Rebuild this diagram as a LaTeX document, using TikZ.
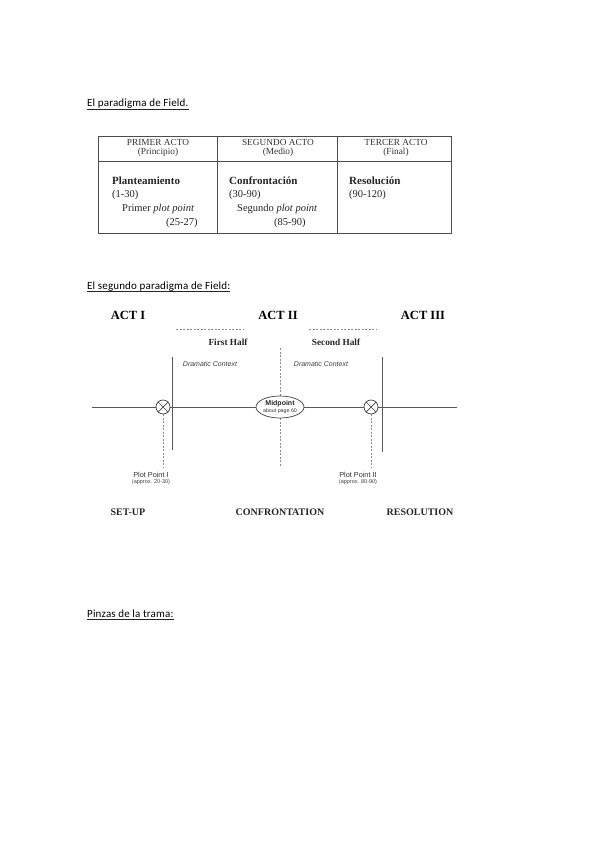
\documentclass[tikz,border=0pt]{standalone}
\usepackage{fontspec}
\usetikzlibrary{shapes.geometric}
\setmainfont{Liberation Serif}
\newfontfamily\calfont[LetterSpace=1.5]{Carlito}
\newfontfamily\arialfont{Liberation Sans}
\begin{document}
\begin{tikzpicture}[x=1pt,y=-1pt,
  title/.style={anchor=base west,inner sep=0pt,font=\calfont\fontsize{11}{13}\selectfont,text=black},
  uline/.style={draw=black!85,line width=0.9pt},
  frame/.style={draw=black!70,line width=0.8pt},
  hdr/.style={inner sep=0pt,font=\fontsize{9.3}{11}\selectfont,text=black!80},
  body/.style={anchor=west,inner sep=0pt,font=\fontsize{10.5}{13}\selectfont,text=black!85},
  bodyb/.style={body,font=\bfseries\fontsize{11}{13}\selectfont},
  act/.style={inner sep=0pt,font=\bfseries\fontsize{12.5}{14}\selectfont},
  half/.style={inner sep=0pt,font=\bfseries\fontsize{9.3}{11}\selectfont,text=black!85},
  dram/.style={inner sep=0pt,font=\arialfont\itshape\fontsize{7}{8}\selectfont,text=black!75},
  solidv/.style={draw=black!65,line width=0.8pt},
  dashv/.style={draw=black!45,dashed,dash pattern=on 2pt off 1.5pt,line width=0.5pt},
  cross/.style={circle,draw=black!75,fill=white,minimum size=14pt,inner sep=0pt,line width=0.7pt},
  phase/.style={inner sep=0pt,font=\bfseries\fontsize{10}{12}\selectfont,text=black!85},
  pp/.style={inner sep=0pt,font=\arialfont\fontsize{7.3}{8}\selectfont,text=black!80},
  ppsmall/.style={inner sep=0pt,font=\arialfont\fontsize{5.5}{6}\selectfont,text=black!75}
]
\useasboundingbox (0,0) rectangle (599,848);
\fill[white] (0,0) rectangle (599,848);

% ---- Section 1 ----
\node[title] (t1) at (87,107) {El paradigma de Field.};
\draw[uline] ([yshift=-2pt]t1.base west) -- ([yshift=-2pt]t1.base east);

\draw[frame] (98,136) rectangle (451,233);
\draw[frame] (98,161) -- (451,161);
\draw[frame] (217,136) -- (217,233);
\draw[frame] (337,136) -- (337,233);

\node[hdr] (h1a) at (158,142.5) {PRIMER ACTO};
\node[hdr] (h1b) at (158,152.5) {(Principio)};
\node[hdr] (h2a) at (278,142.5) {SEGUNDO ACTO};
\node[hdr] (h2b) at (278,152.5) {(Medio)};
\node[hdr] (h3a) at (396,142.5) {TERCER ACTO};
\node[hdr] (h3b) at (396,152.5) {(Final)};

\node[bodyb] (b1a) at (112,181) {Planteamiento};
\node[body] (b1b) at (112,194.5) {(1-30)};
\node[body] (b1c) at (122,209) {Primer \textit{plot point}};
\node[body] (b1d) at (166,223) {(25-27)};

\node[bodyb] (b2a) at (229,181) {Confrontación};
\node[body] (b2b) at (229,194.5) {(30-90)};
\node[body] (b2c) at (237,209) {Segundo \textit{plot point}};
\node[body] (b2d) at (274,223) {(85-90)};

\node[bodyb] (b3a) at (349,181) {Resolución};
\node[body] (b3b) at (349,194.5) {(90-120)};

% ---- Section 2 ----
\node[title] (t2) at (87,289) {El segundo paradigma de Field:};
\draw[uline] ([yshift=-2pt]t2.base west) -- ([yshift=-2pt]t2.base east);

\node[act] (a1) at (128,315) {ACT I};
\node[act] (a2) at (278,315) {ACT II};
\node[act] (a3) at (423,315) {ACT III};

\coordinate (d1a) at (176,329); \coordinate (d1b) at (244,329);
\coordinate (d2a) at (309,329); \coordinate (d2b) at (377,329);
\draw[dashv] (d1a) -- (d1b);
\draw[dashv] (d2a) -- (d2b);

\node[half] (fh) at (228,342) {First Half};
\node[half] (sh) at (336,342) {Second Half};

\node[dram] (dc1) at (210,364) {Dramatic Context};
\node[dram] (dc2) at (321,364) {Dramatic Context};

\coordinate (lvt) at (172,357); \coordinate (lvb) at (172,450);
\coordinate (rvt) at (382,357); \coordinate (rvb) at (382,452);
\draw[solidv] (lvt) -- (lvb);
\draw[solidv] (rvt) -- (rvb);

\coordinate (hl) at (92,407); \coordinate (hr) at (457,407);
\draw[solidv] (hl) -- (hr);

\coordinate (mt) at (280,348); \coordinate (mb) at (280,467);
\draw[dashv] (mt) -- (mb);

\node[ellipse,draw=black!75,fill=white,line width=0.7pt,minimum width=48pt,minimum height=22pt,inner sep=0pt] (mid) at (280,407) {};
\node[inner sep=0pt,font=\arialfont\bfseries\fontsize{7}{8}\selectfont,text=black!85] (midt) at (280,403.5) {Midpoint};
\node[inner sep=0pt,font=\arialfont\fontsize{5.3}{6}\selectfont,text=black!80] (mids) at (280,411.5) {about page 60};

\node[cross] (x1) at (163,407) {};
\node[cross] (x2) at (371,407) {};
\draw[black!75,line width=0.7pt] (x1.north west) -- (x1.south east) (x1.north east) -- (x1.south west);
\draw[black!75,line width=0.7pt] (x2.north west) -- (x2.south east) (x2.north east) -- (x2.south west);

\coordinate (x1b) at (163,468); \coordinate (x2b) at (371,468);
\draw[dashv] (x1.south) -- (x1b);
\draw[dashv] (x2.south) -- (x2b);

\node[pp] (pp1) at (151,475) {Plot Point I};
\node[ppsmall] (pp1b) at (151,482.5) {(approx. 20-30)};
\node[pp] (pp2) at (358,475) {Plot Point II};
\node[ppsmall] (pp2b) at (358,482.5) {(approx. 80-90)};

\node[phase] (s1) at (128,512) {SET-UP};
\node[phase] (s2) at (280,512) {CONFRONTATION};
\node[phase] (s3) at (420,512) {RESOLUTION};

% ---- Section 3 ----
\node[title] (t3) at (87,617) {Pinzas de la trama:};
\draw[uline] ([yshift=-2pt]t3.base west) -- ([yshift=-2pt]t3.base east);
\end{tikzpicture}
\end{document}
